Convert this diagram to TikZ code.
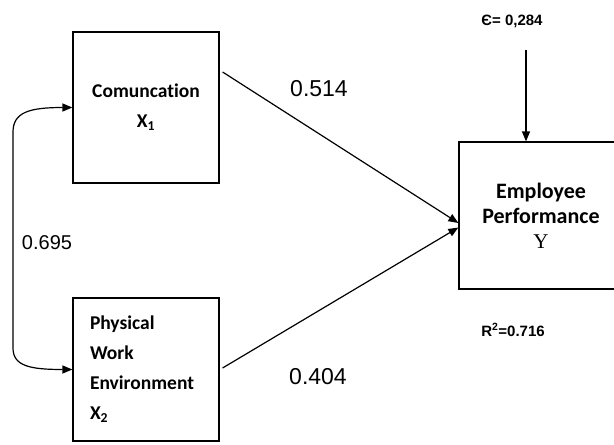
\documentclass[tikz,border=0pt]{standalone}
\usepackage{fontspec}
\setmainfont{Carlito}[Ligatures={NoCommon}]
\newfontfamily\arialfont{Liberation Sans}
\newfontfamily\timesfont{Liberation Serif}
\usetikzlibrary{arrows.meta,positioning,calc}
\def \boxWidth {146}
\def \leftX {146}
\def \railX {13}
\tikzset{
 	varblock/.style= {draw, rectangle, line width=1.2pt, minimum width=\boxWidth pt, font=\bfseries\fontsize{19.5}{30}\selectfont, inner sep=0pt},
 	endblock/.style= {draw, rectangle, line width=1.2pt, minimum width=164pt, minimum height=147pt, align=center, inner sep=0pt, font=\bfseries\fontsize{22}{25}\selectfont},
 	coeff/.style= {font=\arialfont\fontsize{23}{26}\selectfont, inner sep=0pt},
 	note/.style= {font=\arialfont\bfseries\fontsize{15}{18}\selectfont, inner sep=0pt},
 	path/.style= {line width=1.2pt, -{Triangle[length=10pt,width=8pt]}}
 }
\begin{document}
\begin{tikzpicture}[x=1pt,y=-1pt]
	\useasboundingbox (0,0) rectangle (614,445);

%%%%%%%%%%%%%%%%%%%%% Nodes %%%%%%%%%%%%%%%%%%%%%
	\node [varblock, minimum height=151pt, align=center] (X1) at (\leftX,107.5) {Comuncation\\X\textsubscript{1}};
	\node [varblock, minimum height=143pt, align=left, text width=112pt] (X2) at (\leftX,369.5) {Physical\\Work\\Environment\\X\textsubscript{2}};
	\node [endblock] (Y) at (541,215.5) {Employee\\Performance\\{\mdseries\timesfont\fontsize{21}{22}\selectfont Y}};

	\node [coeff] (b1) at (319,89) {0.514};
	\node [coeff] (b2) at (318,377) {0.404};
	\node [coeff, font=\arialfont\fontsize{20}{24}\selectfont] (r12) at (47,243) {0.695};
	\node [note] (eps) at (512,21) {Є= 0,284};
	\node [note] (rsq) at (513,330) {R\textsuperscript{2}=0.716};

%%%%%%%%%%%%%%%%%%%%% Links %%%%%%%%%%%%%%%%%%%%%
	\coordinate (epsTail) at (526,50);
	\draw[path] (epsTail) -- (epsTail |- Y.north);

	\draw[path] ($(X1.east)+(3,-35.5)$) -- ($(Y.west)+(0,7.5)$);
	\draw[path] ($(X2.east)+(3,-1.5)$) -- ($(Y.west)+(0,12)$);

	\draw[path, {Triangle[length=10pt,width=8pt]}-{Triangle[length=10pt,width=8pt]}] (X1.west) .. controls (30,107.5) and (\railX,112) .. (\railX,132) -- (\railX,348) .. controls (\railX,366) and (30,369.5) .. (X2.west);

\end{tikzpicture}
\end{document}
